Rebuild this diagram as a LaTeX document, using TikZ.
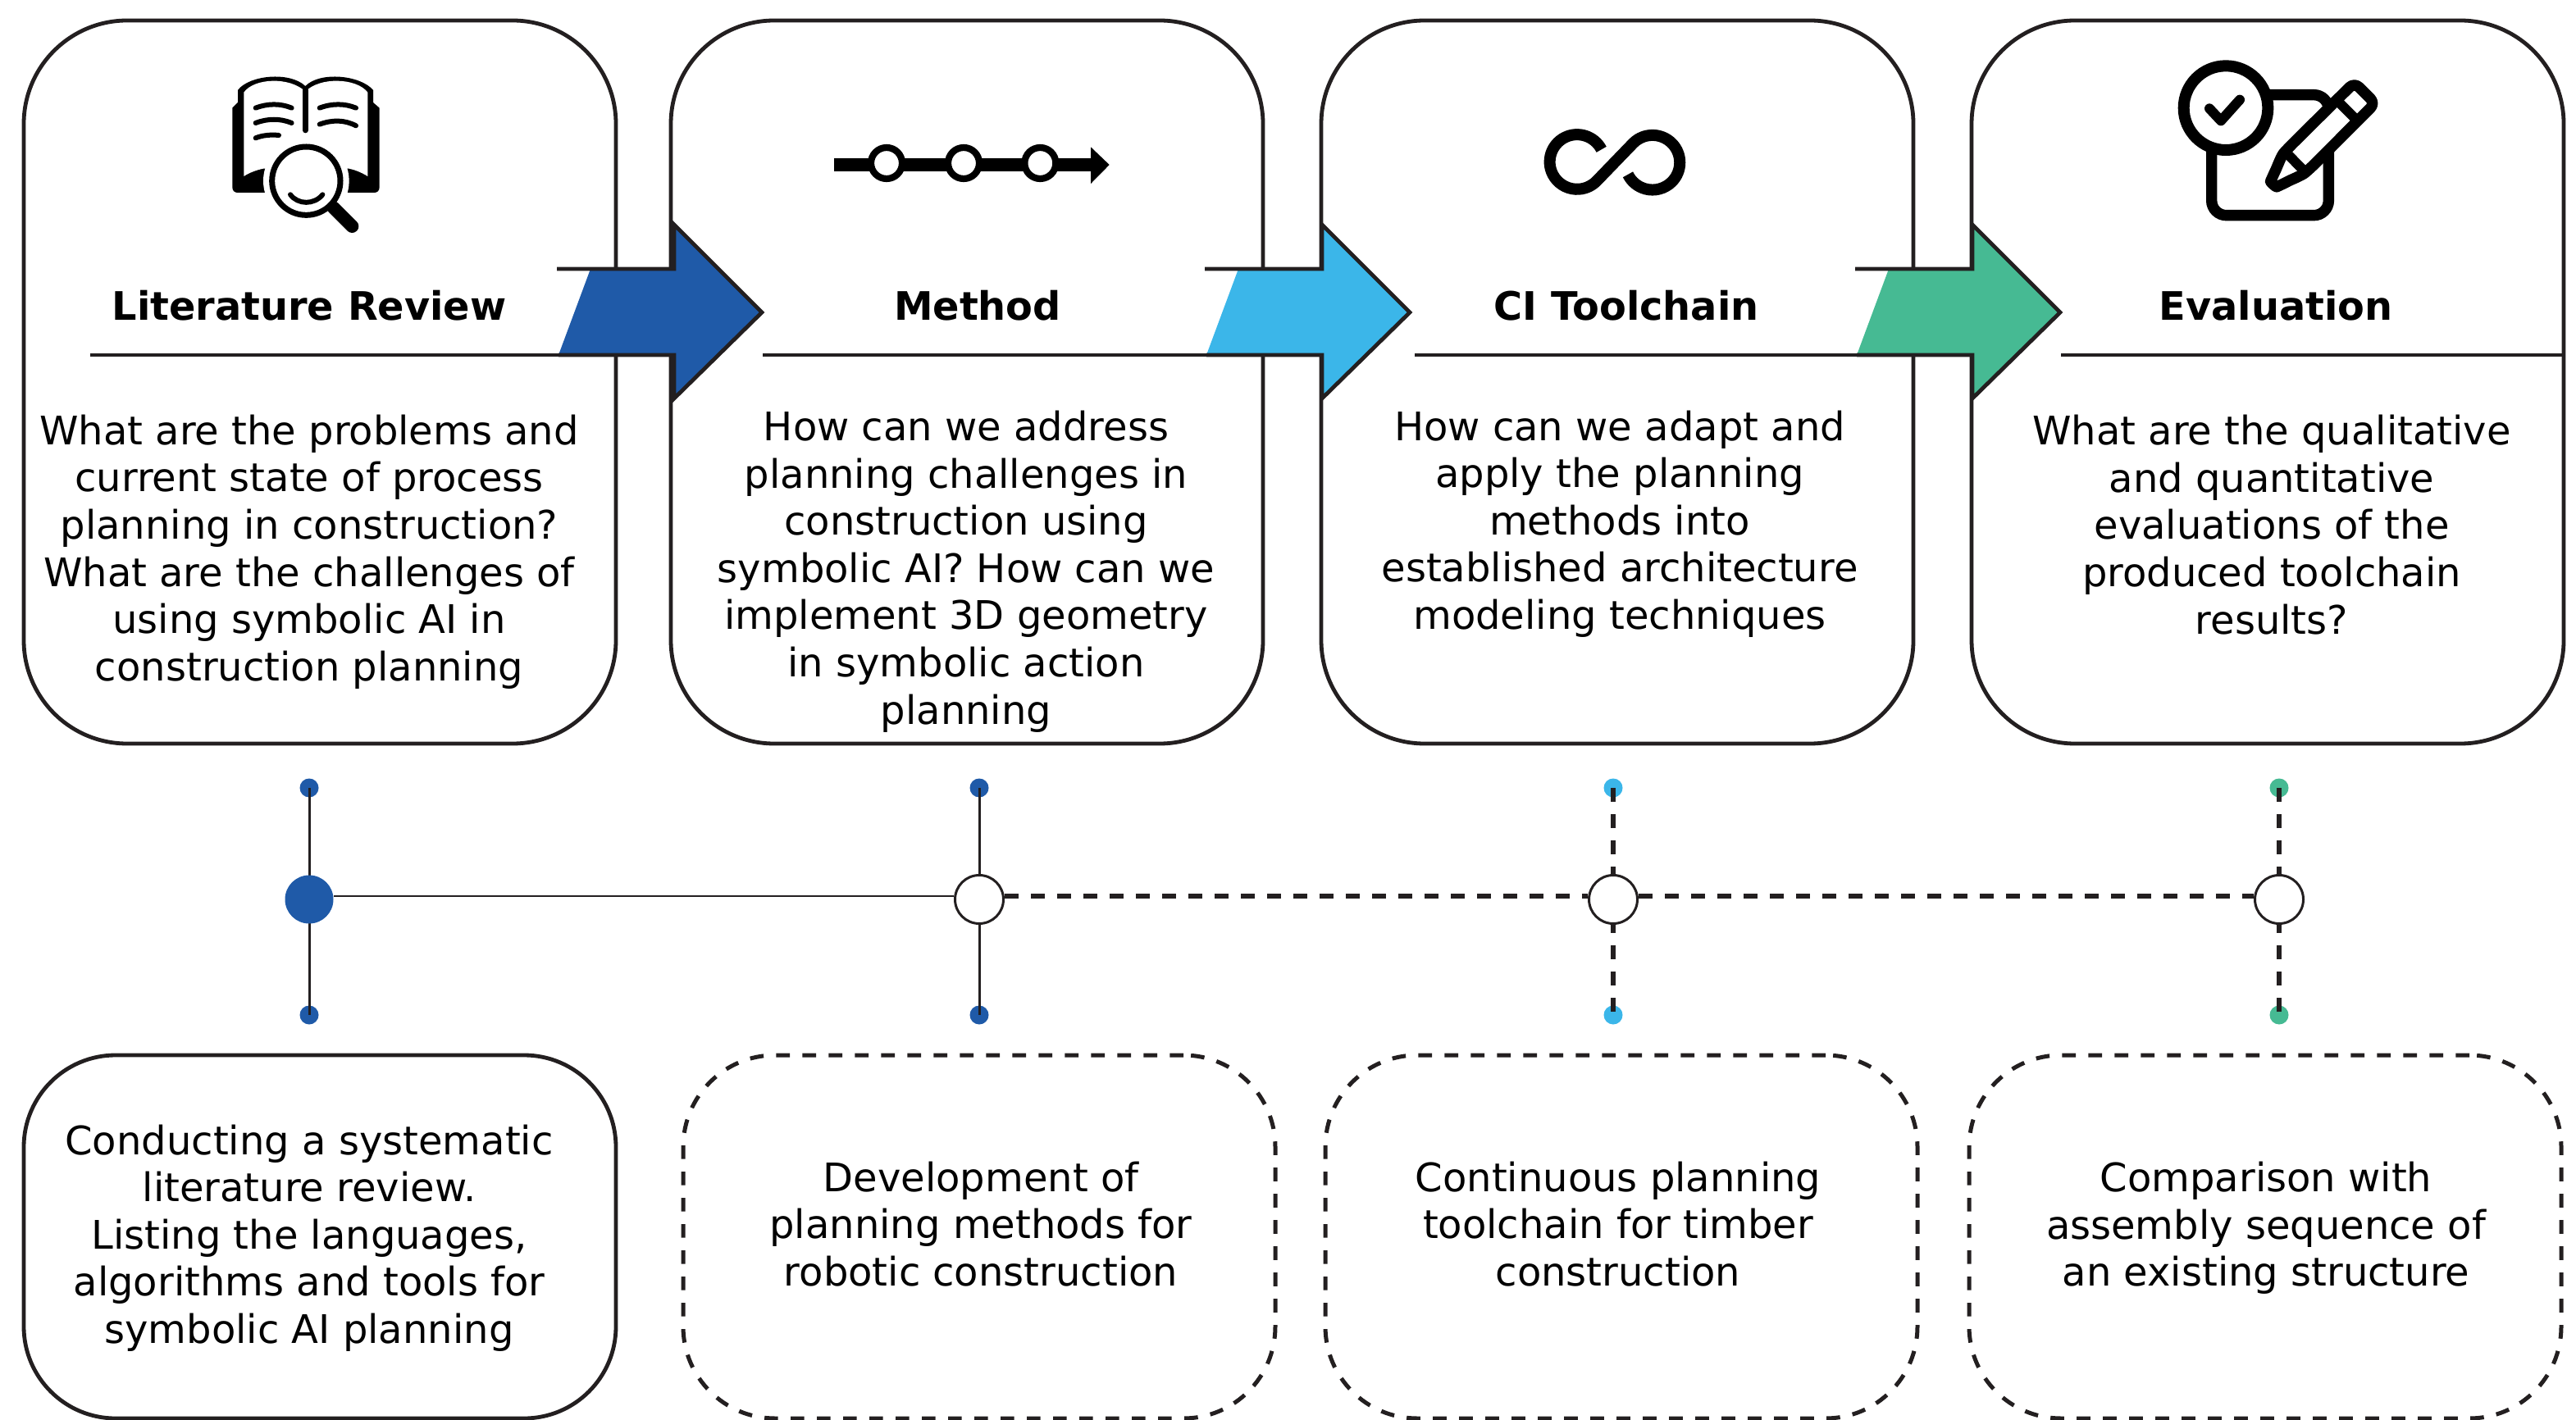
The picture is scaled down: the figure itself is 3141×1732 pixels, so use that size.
\documentclass[tikz,border=0pt]{standalone}
\usepackage{fontspec}
\setmainfont{DejaVu Sans}
\usepackage{xcolor}
\usetikzlibrary{arrows,shapes,positioning}

\definecolor{ink}{HTML}{231F20}
\definecolor{deepblue}{HTML}{1F5AA8}
\definecolor{skyblue}{HTML}{3BB6E9}
\definecolor{seagreen}{HTML}{46BA93}

\begin{document}
\begin{tikzpicture}[x=0.5pt,y=-0.5pt]
		\tikzstyle{box_top}=[draw=ink,line width=2.4pt,rounded corners=63pt,minimum width=361pt,minimum height=441pt,inner sep=0pt]
		\tikzstyle{box_low}=[box_top,rounded corners=56pt,minimum height=221.5pt]
		\tikzstyle{box_dash}=[box_low,line width=2.5pt,dash pattern=on 8.3pt off 7.7pt]
		\tikzstyle{head_text}=[anchor=base,font=\fontsize{23.9}{28}\selectfont\bfseries]
		\tikzstyle{body_text}=[align=center,inner sep=0pt,font=\fontsize{24}{28.8}\selectfont]
		\tikzstyle{rule_line}=[draw=ink,line width=2.4pt]
		\tikzstyle{dot_small}=[circle,minimum size=11.5pt,inner sep=0pt]
		\tikzstyle{dot_big}=[circle,minimum size=29.5pt,inner sep=0pt]
		\tikzstyle{dot_open}=[dot_big,draw=ink,line width=1.5pt,fill=white]
		\tikzstyle{stem_line}=[draw=ink,line width=1.5pt]
		\tikzstyle{link_dash}=[draw=ink,line width=2.8pt,dash pattern=on 8.3pt off 7.7pt]

		\useasboundingbox (0,0) rectangle (3141,1732);

		\node (lit_box) at (390,466) [box_top] {};
		\node (met_box) at (1179,466) [box_top] {};
		\node (ci_box) at (1972,466) [box_top] {};
		\node (eva_box) at (2765,466) [box_top] {};

		\node (lit_low) at (390,1508.5) [box_low] {};
		\node (met_low) at (1194,1508.5) [box_dash] {};
		\node (ci_low) at (1977,1508.5) [box_dash] {};
		\node (eva_low) at (2762,1508.5) [box_dash] {};

		\foreach \x/\c in {822/deepblue,1612/skyblue,2405/seagreen} {
			\fill [\c] (\x-102,328) -- (\x,328) -- (\x,274) -- (\x+107,381) -- (\x,486) -- (\x,433) -- (\x-141,433) -- cycle;
			\draw [rule_line,miter limit=4] (\x-143,328) -- (\x,328) -- (\x,274) -- (\x+107,381) -- (\x,486) -- (\x,433) -- (\x-141,433);
		}
		\draw [rule_line] (110,433) -- (681,433);
		\draw [rule_line] (930,433) -- (1471,433);
		\draw [rule_line] (1725,433) -- (2264,433);
		\draw [rule_line] (2513,433) -- (3125,433);

		\node (lit_head) at (377,391) [head_text] {Literature Review};
		\node (met_head) at (1192,391) [head_text] {Method};
		\node (ci_head) at (1983,391) [head_text] {CI Toolchain};
		\node (eva_head) at (2775,391) [head_text] {Evaluation};

		\node (lit_text) at (377,673) [body_text] {What are the problems and\\current state of process\\planning in construction?\\What are the challenges of\\using symbolic AI in\\construction planning};
		\node (met_text) at (1178,697) [body_text] {How can we address\\planning challenges in\\construction using\\symbolic AI? How can we\\implement 3D geometry\\in symbolic action\\planning};
		\node (ci_text) at (1975,639) [body_text] {How can we adapt and\\apply the planning\\methods into\\established architecture\\modeling techniques};
		\node (eva_text) at (2770,640) [body_text] {What are the qualitative\\and quantitative\\evaluations of the\\produced toolchain\\results?};

		\node (lit_note) at (377,1510) [body_text] {Conducting a systematic\\literature review.\\Listing the languages,\\algorithms and tools for\\symbolic AI planning};
		\node (met_note) at (1196,1493) [body_text] {Development of\\planning methods for\\robotic construction};
		\node (ci_note) at (1973,1493) [body_text] {Continuous planning\\toolchain for timber\\construction};
		\node (eva_note) at (2763,1498) [body_text] {Comparison with\\assembly sequence of\\an existing structure};

		\node (lit_up) at (377,961) [dot_small,fill=deepblue] {};
		\node (lit_dn) at (377,1238) [dot_small,fill=deepblue] {};
		\node (met_up) at (1194,961) [dot_small,fill=deepblue] {};
		\node (met_dn) at (1194,1238) [dot_small,fill=deepblue] {};
		\node (ci_up) at (1967,961) [dot_small,fill=skyblue] {};
		\node (ci_dn) at (1967,1238) [dot_small,fill=skyblue] {};
		\node (eva_up) at (2779,961) [dot_small,fill=seagreen] {};
		\node (eva_dn) at (2779,1238) [dot_small,fill=seagreen] {};

		\draw [stem_line] (lit_up.center) -- (lit_dn.center);
		\draw [stem_line] (met_up.center) -- (met_dn.center);
		\draw [link_dash] (ci_up.center) -- (ci_dn.center);
		\draw [link_dash] (eva_up.center) -- (eva_dn.center);

		\node (lit_mid) at (377,1097) [dot_big,fill=deepblue] {};
		\node (met_mid) at (1194,1097) [dot_open] {};
		\node (ci_mid) at (1967,1097) [dot_open] {};
		\node (eva_mid) at (2779,1097) [dot_open] {};

		\draw [draw=ink,line width=1.3pt] (lit_mid.east |- 0,1093) -- (met_mid.west |- 0,1093);
		\draw [link_dash] (met_mid.east |- 0,1093) -- (ci_mid.west |- 0,1093);
		\draw [link_dash] (ci_mid.east |- 0,1093) -- (eva_mid.west |- 0,1093);

		\begin{scope}[shift={(240,60)},x=0.16667pt,y=-0.16667pt]
			\fill [black] (150,195) -- (150,150) .. controls (190,95) and (340,80) .. (397,135) .. controls (450,80) and (600,95) .. (645,150) -- (645,195) -- (668,215) -- (668,505) .. controls (668,518) and (660,525) .. (648,525) -- (150,525) .. controls (138,525) and (130,518) .. (130,505) -- (130,215) -- cycle;
			\fill [white] (172,158) .. controls (210,105) and (340,100) .. (397,155) .. controls (450,100) and (585,105) .. (625,158) -- (625,465) .. controls (600,450) and (580,442) .. (557,437) -- (243,437) .. controls (220,442) and (195,450) .. (172,465) -- cycle;
			\fill [white] (400,482) circle (157);
			\draw [black,line width=3.3pt,line cap=round] (397,150) -- (397,297);
			\draw [black,line width=3pt,line cap=round] (215,215) .. controls (260,198) and (305,198) .. (347,215);
			\draw [black,line width=3pt,line cap=round] (215,270) .. controls (260,253) and (305,253) .. (347,270);
			\draw [black,line width=3pt,line cap=round] (215,325) .. controls (240,315) and (270,312) .. (300,315);
			\draw [black,line width=3pt,line cap=round] (449,215) .. controls (495,198) and (540,198) .. (582,215);
			\draw [black,line width=3pt,line cap=round] (449,275) .. controls (495,258) and (540,258) .. (582,280);
			\draw [black,line width=3.5pt] (400,482) circle (125);
			\draw [black,line width=3pt,line cap=round] (342,532) .. controls (370,570) and (430,570) .. (460,532);
			\draw [black,line width=8pt,line cap=round] (500,580) -- (568,648);
		\end{scope}

		\begin{scope}[shift={(980,130)},x=0.16667pt,y=-0.16667pt]
			\fill [black] (110,190) rectangle (1050,238);
			\fill [black] (1050,148) -- (1118,213) -- (1050,282) -- cycle;
			\foreach \x in {303,585,865} {
				\draw [black,fill=white,line width=4.1pt] (\x,207) circle (57);
			}
		\end{scope}

		\begin{scope}[shift={(1840,130)},x=0.16667pt,y=-0.16667pt]
			\draw [black,line width=7pt] (338,157) arc (-27:-315:100) -- (454,134) arc (-135:154:100);
		\end{scope}

		\begin{scope}[shift={(2620,60)},x=0.16667pt,y=-0.16667pt]
			\draw [black,line width=6.7pt,rounded corners=9pt] (230,167) rectangle (658,608);
			\draw [black,fill=white,line width=7pt] (282,215) circle (154);
			\draw [black,line width=6pt,line cap=round,line join=round] (222,217) -- (264,262) -- (333,185);
			\draw [black,fill=white,line width=6.7pt,line join=round,rounded corners=4pt] (752,122) -- (828,198) -- (590,437) .. controls (560,462) and (520,478) .. (490,494) .. controls (465,505) and (445,485) .. (455,462) .. controls (470,430) and (485,390) .. (510,362) -- cycle;
			\draw [black,line width=6pt] (698,197) -- (751,250);
			\draw [black,line width=6pt] (512,388) -- (563,440);
		\end{scope}

	\end{tikzpicture}
\end{document}
